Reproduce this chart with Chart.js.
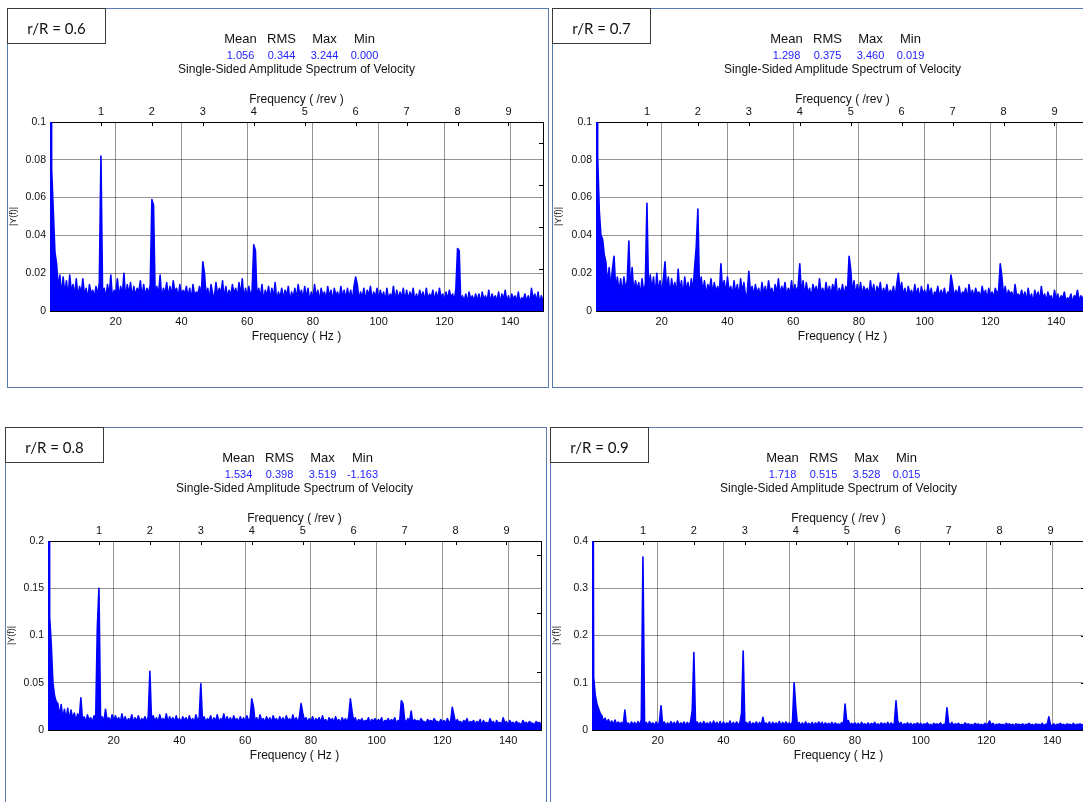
<!DOCTYPE html>
<html>
<head>
<meta charset="utf-8">
<title>Single-Sided Amplitude Spectrum of Velocity</title>
<script src="https://cdn.jsdelivr.net/npm/chart.js@4.4.1/dist/chart.umd.min.js"></script>
<style>
  html, body { margin: 0; padding: 0; background: #fff; }
  body { width: 1083px; height: 802px; overflow: hidden; position: relative; font-family: "Liberation Sans", Arial, sans-serif; color: #111; }
  .panel { position: absolute; width: 541px; height: 379px; }
  .panel canvas { position: absolute; left: 0; top: 0; }
  .frame { position: absolute; left: 0; top: 0; width: 542px; height: 380px; border: 1px solid #5b7cb1; box-sizing: border-box; }
  .tag { position: absolute; left: 0; top: 0; width: 99px; height: 36px; border: 1px solid #3a3a3a; box-sizing: border-box; background: #fff;
         display: flex; align-items: center; justify-content: center; padding-top: 4px; font-family: Lato, "Open Sans", sans-serif; font-size: 15px; }
  .cell { position: absolute; width: 60px; text-align: center; white-space: nowrap; }
  .head { font-size: 13px; line-height: 16px; }
  .val { font-size: 11px; line-height: 14px; color: #2222ff; }
  .title { position: absolute; width: 400px; text-align: center; font-size: 12px; line-height: 14px; white-space: nowrap; }
</style>
</head>
<body>
<script>
// spectrum bins: 0 .. 150 Hz every 0.5 Hz
const BIN_HZ = 0.5;
const HZ_PER_REV = 15.5;

const hzTicks = [20, 40, 60, 80, 100, 120, 140];
const revTicks = [1, 2, 3, 4, 5, 6, 7, 8, 9];

const radii = ['0.6', '0.7', '0.8', '0.9'];
const statMean = ['1.056', '1.298', '1.534', '1.718'];
const statRms = ['0.344', '0.375', '0.398', '0.515'];
const statMax = ['3.244', '3.460', '3.519', '3.528'];
const statMin = ['0.000', '0.019', '-1.163', '0.015'];

const yTicks06 = [0, 0.02, 0.04, 0.06, 0.08, 0.1];
const yTicks07 = [0, 0.02, 0.04, 0.06, 0.08, 0.1];
const yTicks08 = [0, 0.05, 0.1, 0.15, 0.2];
const yTicks09 = [0, 0.1, 0.2, 0.3, 0.4];

// |Y(f)| per bin, in units of 1e-3 (first bin is the mean, off the top of the axis)
const amp06 = [
  1056, 75, 53, 31, 25, 12, 19, 8, 18, 9, 16, 7, 19, 10, 14, 8, 17, 7, 13, 9,
  17, 8, 12, 6, 14, 9, 11, 7, 13, 8, 15, 82, 9, 12, 7, 14, 8, 19, 6, 11,
  9, 17, 7, 13, 8, 20, 6, 14, 9, 15, 7, 13, 8, 12, 10, 16, 7, 14, 8, 12,
  9, 14, 59, 56, 7, 13, 8, 19, 6, 12, 9, 15, 7, 13, 8, 16, 10, 12, 7, 14,
  8, 11, 9, 13, 7, 12, 6, 14, 8, 10, 9, 13, 7, 26, 20, 8, 12, 6, 14, 9,
  7, 15, 8, 12, 9, 16, 6, 13, 7, 11, 8, 14, 9, 12, 7, 15, 8, 17, 6, 12,
  7, 13, 8, 11, 35, 32, 6, 12, 7, 14, 5, 11, 8, 13, 6, 12, 7, 15, 5, 10,
  7, 12, 6, 11, 8, 13, 5, 10, 7, 12, 6, 14, 8, 11, 6, 13, 7, 12, 5, 10,
  6, 14, 7, 11, 5, 12, 8, 10, 6, 13, 7, 11, 5, 12, 8, 10, 6, 13, 7, 11,
  6, 12, 7, 11, 5, 13, 18, 14, 6, 10, 7, 12, 5, 11, 8, 13, 6, 10, 7, 12,
  6, 11, 7, 10, 5, 12, 6, 9, 7, 13, 5, 11, 6, 10, 7, 12, 5, 11, 6, 10,
  7, 12, 5, 9, 6, 11, 7, 10, 5, 12, 6, 9, 7, 11, 5, 10, 6, 12, 7, 9,
  5, 10, 6, 11, 7, 9, 5, 12, 33, 32, 3, 8, 5, 9, 4, 10, 6, 8, 5, 9,
  5, 9, 4, 10, 6, 8, 5, 11, 4, 9, 6, 8, 5, 10, 4, 9, 6, 11, 5, 8,
  4, 9, 6, 8, 5, 10, 4, 7, 6, 9, 5, 8, 4, 12, 6, 9, 5, 10, 4, 8,
  5
];
const amp07 = [
  1298, 82, 53, 40, 38, 30, 26, 14, 23, 12, 22, 29, 11, 18, 10, 17, 9, 18, 11, 16,
  37, 10, 23, 9, 16, 11, 15, 8, 17, 10, 14, 57, 9, 19, 11, 18, 8, 20, 10, 16,
  9, 17, 26, 10, 18, 8, 17, 11, 15, 9, 22, 10, 16, 8, 18, 11, 15, 9, 17, 10,
  23, 34, 54, 9, 18, 10, 16, 8, 14, 11, 17, 9, 15, 10, 13, 8, 25, 11, 16, 9,
  18, 10, 13, 8, 16, 9, 14, 7, 17, 10, 15, 8, 9, 21, 10, 13, 8, 14, 9, 12,
  7, 15, 9, 13, 8, 16, 10, 12, 7, 14, 9, 17, 8, 13, 10, 15, 8, 12, 9, 16,
  8, 14, 10, 13, 25, 9, 16, 8, 15, 9, 12, 7, 14, 10, 13, 8, 17, 9, 12, 8,
  15, 9, 13, 8, 14, 10, 17, 7, 12, 9, 14, 8, 13, 10, 29, 22, 9, 16, 8, 14,
  9, 15, 8, 13, 10, 12, 8, 16, 9, 14, 7, 13, 10, 15, 8, 12, 9, 14, 8, 11,
  9, 13, 7, 14, 20, 10, 15, 8, 12, 7, 13, 9, 11, 7, 14, 8, 12, 6, 13, 9,
  11, 7, 14, 8, 12, 6, 10, 9, 13, 7, 11, 8, 12, 7, 10, 9, 19, 14, 7, 11,
  8, 13, 7, 10, 9, 12, 6, 14, 8, 11, 7, 12, 9, 10, 7, 13, 8, 11, 6, 12,
  8, 10, 7, 12, 9, 11, 25, 18, 8, 13, 7, 11, 9, 10, 6, 14, 8, 9, 7, 11,
  7, 10, 5, 12, 6, 9, 4, 11, 7, 10, 5, 13, 6, 9, 5, 10, 7, 8, 4, 11,
  6, 9, 5, 8, 7, 10, 5, 7, 6, 9, 4, 8, 7, 11, 5, 8, 6, 9, 5, 7,
  6
];
const amp08 = [
  1534, 120, 90, 50, 36, 30, 28, 14, 27, 12, 22, 11, 23, 10, 21, 12, 18, 9, 17, 11,
  34, 10, 14, 8, 16, 10, 13, 8, 15, 9, 108, 150, 10, 14, 8, 22, 10, 13, 8, 16,
  9, 15, 10, 13, 8, 17, 9, 14, 8, 12, 10, 16, 8, 13, 9, 15, 8, 12, 10, 14,
  8, 14, 62, 10, 15, 9, 13, 8, 16, 10, 12, 9, 17, 8, 14, 10, 13, 8, 15, 9,
  12, 8, 14, 10, 13, 8, 15, 9, 12, 8, 16, 10, 13, 49, 10, 14, 8, 12, 10, 15,
  8, 13, 9, 16, 8, 12, 10, 17, 8, 14, 9, 13, 8, 15, 10, 12, 8, 14, 9, 13,
  8, 15, 10, 12, 33, 25, 9, 13, 8, 16, 10, 12, 8, 14, 9, 13, 8, 15, 10, 12,
  8, 14, 9, 13, 8, 15, 10, 12, 8, 16, 9, 13, 8, 14, 28, 18, 10, 13, 8, 12,
  9, 14, 8, 12, 10, 13, 8, 15, 9, 11, 7, 13, 10, 12, 8, 14, 9, 11, 7, 13,
  9, 12, 8, 14, 33, 20, 9, 13, 7, 11, 9, 12, 8, 10, 9, 13, 7, 11, 9, 12,
  8, 11, 9, 13, 7, 10, 9, 12, 8, 11, 9, 13, 7, 10, 9, 31, 28, 11, 8, 12,
  9, 20, 7, 11, 9, 10, 8, 12, 9, 9, 7, 11, 9, 10, 8, 12, 9, 9, 7, 11,
  8, 10, 7, 12, 8, 9, 24, 16, 7, 11, 8, 9, 6, 10, 8, 12, 6, 9, 8, 10,
  6, 9, 7, 11, 5, 10, 7, 8, 6, 12, 7, 9, 5, 10, 7, 8, 6, 13, 7, 9,
  5, 10, 7, 8, 6, 9, 7, 7, 5, 10, 7, 8, 6, 9, 7, 7, 5, 9, 7, 8,
  6
];
const amp09 = [
  1718, 113, 73, 55, 45, 35, 30, 18, 25, 15, 22, 13, 19, 12, 21, 11, 17, 12, 16, 11,
  42, 10, 15, 9, 17, 11, 16, 9, 18, 10, 22, 366, 12, 16, 10, 18, 11, 15, 9, 17,
  10, 16, 51, 11, 17, 9, 15, 10, 18, 11, 16, 9, 19, 10, 15, 11, 17, 9, 16, 10,
  18, 42, 164, 12, 17, 10, 16, 9, 18, 11, 15, 10, 17, 9, 19, 11, 16, 10, 18, 9,
  17, 10, 15, 11, 19, 9, 16, 10, 17, 11, 15, 35, 167, 12, 16, 10, 18, 9, 15, 11,
  17, 10, 16, 9, 27, 11, 15, 10, 17, 9, 16, 11, 15, 10, 18, 9, 16, 10, 17, 11,
  15, 10, 17, 100, 48, 11, 16, 9, 15, 10, 17, 11, 14, 10, 16, 9, 15, 11, 17, 10,
  16, 9, 15, 11, 14, 10, 16, 9, 15, 11, 13, 10, 16, 9, 55, 18, 20, 10, 14, 11,
  15, 10, 14, 9, 16, 11, 13, 10, 15, 9, 14, 11, 16, 10, 13, 9, 15, 11, 14, 10,
  16, 9, 15, 11, 14, 62, 20, 10, 16, 9, 13, 11, 15, 10, 14, 9, 13, 11, 15, 10,
  14, 9, 13, 11, 15, 10, 12, 9, 14, 11, 13, 10, 15, 9, 12, 11, 47, 15, 10, 16,
  9, 13, 11, 14, 10, 12, 9, 15, 11, 13, 10, 12, 9, 14, 11, 13, 10, 12, 9, 14,
  11, 13, 19, 10, 14, 9, 12, 11, 13, 10, 12, 9, 14, 11, 13, 10, 12, 9, 13, 11,
  12, 10, 13, 9, 12, 11, 14, 10, 12, 9, 13, 11, 12, 10, 14, 9, 12, 11, 28, 10,
  10, 13, 9, 12, 11, 14, 10, 12, 9, 13, 11, 12, 10, 14, 9, 12, 11, 13, 10, 12,
  10
];

// page layout of the four panels
const W = 541, H = 379, PLOT_TOP = 114, PLOT_W = 493, PLOT_H = 189;
const GRID = 'rgba(0, 0, 0, 0.42)';
const BLUE = '#0000ff';
const panels = [
  { left: 7,   top: 8,   plotLeft: 43, rightSpan: 4.5,  amps: amp06, yTicks: yTicks06 },
  { left: 552, top: 8,   plotLeft: 44, rightSpan: 4.5,  amps: amp07, yTicks: yTicks07 },
  { left: 5,   top: 427, plotLeft: 43, rightSpan: 3.24, amps: amp08, yTicks: yTicks08 },
  { left: 550, top: 427, plotLeft: 42, rightSpan: 4,    amps: amp09, yTicks: yTicks09 },
];
const colOffsets = [-56, -15, 28, 68];

Chart.defaults.font.family = '"Liberation Sans", Arial, sans-serif';
Chart.defaults.color = '#111';

// small inward tick marks on the /rev axis and the right-hand axis
const innerTicks = {
  id: 'innerTicks',
  afterDraw(chart) {
    const { ctx, chartArea: a, scales } = chart;
    ctx.save();
    ctx.strokeStyle = '#000';
    ctx.lineWidth = 1;
    ctx.beginPath();
    scales.xRev.ticks.forEach(t => {
      const x = Math.round(scales.xRev.getPixelForValue(t.value)) + 0.5;
      ctx.moveTo(x, a.top);
      ctx.lineTo(x, a.top + 4);
    });
    scales.yR.ticks.forEach(t => {
      const y = Math.round(scales.yR.getPixelForValue(t.value)) + 0.5;
      ctx.moveTo(a.right - 4, y);
      ctx.lineTo(a.right, y);
    });
    ctx.stroke();
    ctx.restore();
  }
};

function addDiv(parent, cls, text, css) {
  const d = document.createElement('div');
  d.className = cls;
  d.textContent = text;
  Object.assign(d.style, css || {});
  parent.appendChild(d);
  return d;
}

panels.forEach((p, k) => {
  const box = document.createElement('div');
  box.className = 'panel';
  box.style.left = p.left + 'px';
  box.style.top = p.top + 'px';
  document.body.appendChild(box);

  const canvas = document.createElement('canvas');
  canvas.width = W;
  canvas.height = H;
  box.appendChild(canvas);

  addDiv(box, 'frame', '');
  addDiv(box, 'tag', 'r/R = ' + radii[k]);

  const cx = p.plotLeft + PLOT_W / 2;
  const heads = ['Mean', 'RMS', 'Max', 'Min'];
  const vals = [statMean[k], statRms[k], statMax[k], statMin[k]];
  heads.forEach((h, j) => {
    addDiv(box, 'cell head', h, { left: (cx + colOffsets[j] - 30) + 'px', top: '23px' });
    addDiv(box, 'cell val', vals[j], { left: (cx + colOffsets[j] - 30) + 'px', top: '40px' });
  });
  addDiv(box, 'title', 'Single-Sided Amplitude Spectrum of Velocity', { left: (cx - 200) + 'px', top: '54px' });

  const points = p.amps.map((a, i) => ({ x: i * BIN_HZ, y: a / 1000 }));
  const yMax = p.yTicks[p.yTicks.length - 1];

  new Chart(canvas, {
    type: 'line',
    data: {
      datasets: [{
        data: points,
        xAxisID: 'x',
        yAxisID: 'y',
        borderColor: BLUE,
        backgroundColor: BLUE,
        fill: 'origin',
        borderWidth: 1.6,
        borderJoinStyle: 'round',
        pointRadius: 0,
        tension: 0
      }]
    },
    options: {
      responsive: false,
      animation: false,
      devicePixelRatio: 1,
      events: [],
      layout: { padding: 0 },
      plugins: { legend: { display: false }, tooltip: { enabled: false } },
      scales: {
        x: {
          type: 'linear', axis: 'x', position: 'bottom', min: 0, max: 150,
          afterBuildTicks: s => { s.ticks = hzTicks.map(v => ({ value: v })); },
          afterFit: s => { s.height = H - PLOT_TOP - PLOT_H; },
          ticks: { padding: 4, font: { size: 11 }, maxRotation: 0, autoSkip: false },
          grid: { color: GRID, drawTicks: false },
          border: { color: '#000' },
          title: { display: true, text: 'Frequency ( Hz )', font: { size: 12 }, padding: { top: 0, bottom: 43 } }
        },
        xRev: {
          type: 'linear', axis: 'x', position: 'top', min: 0, max: 150 / HZ_PER_REV,
          afterBuildTicks: s => { s.ticks = revTicks.map(v => ({ value: v })); },
          afterFit: s => { s.height = PLOT_TOP; },
          ticks: { padding: 3, font: { size: 11 }, maxRotation: 0, autoSkip: false },
          grid: { drawOnChartArea: false, drawTicks: false },
          border: { color: '#000' },
          title: { display: true, text: 'Frequency ( /rev )', font: { size: 12 }, padding: { top: 84, bottom: 0 } }
        },
        y: {
          type: 'linear', axis: 'y', position: 'left', min: 0, max: yMax,
          afterBuildTicks: s => { s.ticks = p.yTicks.map(v => ({ value: v })); },
          afterFit: s => { s.width = p.plotLeft; },
          ticks: { padding: 4, font: { size: 10.5 }, callback: v => String(v) },
          grid: { color: GRID, drawTicks: false },
          border: { color: '#000' },
          title: { display: true, text: '|Y(f)|', font: { size: 9 }, padding: { top: 1, bottom: 0 } }
        },
        yR: {
          type: 'linear', axis: 'y', position: 'right', min: 0, max: p.rightSpan,
          afterBuildTicks: s => { s.ticks = s.ticks.filter(t => Number.isInteger(t.value)); },
          afterFit: s => { s.width = W - p.plotLeft - PLOT_W; },
          ticks: { display: false, stepSize: 1 },
          grid: { drawOnChartArea: false, drawTicks: false },
          border: { color: '#000' }
        }
      }
    },
    plugins: [innerTicks]
  });
});
</script>
</body>
</html>
